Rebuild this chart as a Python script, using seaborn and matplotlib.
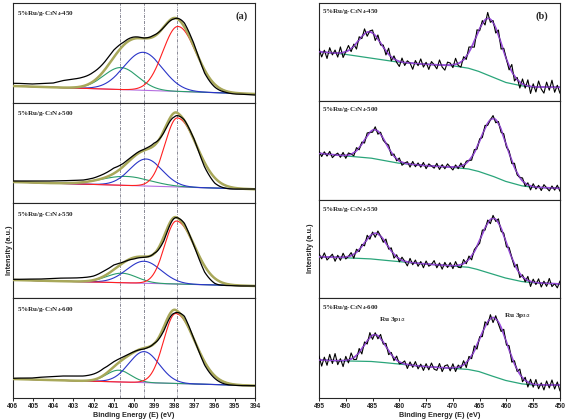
import numpy as np
import matplotlib
matplotlib.use("Agg")
import matplotlib.pyplot as plt
import seaborn as sns

sns.set_style("ticks")
plt.rcParams.update({
    "font.family": ["Liberation Sans", "DejaVu Sans"],
    "mathtext.fontset": "custom",
    "mathtext.rm": "Liberation Serif:bold",
    "mathtext.bf": "Liberation Serif:bold",
    "mathtext.it": "Liberation Serif:bold",
    "mathtext.default": "bf",
    "axes.linewidth": 0.8,
})

# ---------------- data ----------------
samples = ["450", "500", "550", "600"]

# panel (a): N 1s
ticks_a = [406, 405, 404, 403, 402, 401, 400, 399, 398, 397, 396, 395, 394]
ref_lines_a = [400.7, 399.5, 397.85]
base_left_a = [17, 21, 18, 19]
base_right_a = [9, 13.7, 12, 12.3]
red_center_a = [397.82, 397.85, 397.9, 397.93]
red_height_a = [65, 69, 63, 70]
red_sig_hi_a = [0.75, 0.62, 0.58, 0.6]
red_sig_lo_a = [0.9, 0.95, 0.9, 0.95]
blue_center_a = [399.55, 399.4, 399.5, 399.5]
blue_height_a = [38, 27, 22, 31]
blue_sig_a = [0.95, 0.8, 0.85, 0.75]
green_center_a = [400.65, 400.4, 400.6, 400.76]
green_height_a = [22, 9, 9.5, 11.7]
green_sig_a = [0.85, 1.2, 0.75, 0.6]

raw_energy_a = [406, 405.5, 405, 404.5, 404, 403.5, 403, 402.5, 402, 401.5, 401, 400.5, 400,
                399.5, 399, 398.5, 398, 397.5, 397, 396.5, 396, 395.5, 395, 394.5, 394]
raw_a_450 = [19.7, 19.5, 19, 19.5, 20, 22.5, 24, 26, 31, 40, 53, 61, 66,
             65, 68, 76, 84, 80, 58, 30, 16, 11, 9, 8.7, 8]
raw_a_500 = [22, 22, 22, 22, 22, 22.3, 22.7, 23, 25, 29, 35, 40, 48,
             53.7, 60, 71, 86, 83, 63, 36, 20, 15, 14, 14, 14]
raw_a_550 = [18.7, 18.7, 19, 19, 19.5, 20, 20, 20.5, 22, 27, 33, 36, 39,
             40.7, 44.7, 58, 79.7, 74.7, 51, 26, 14.7, 12.7, 12.3, 12, 12]
raw_a_600 = [19.7, 20, 20, 21, 21.5, 22, 22, 22, 24, 29.7, 36.3, 41.3, 46.3,
             49, 54.7, 68, 84.7, 81.7, 58, 33, 19.7, 14, 12.7, 12.3, 12.3]
raw_a = [raw_a_450, raw_a_500, raw_a_550, raw_a_600]

# panel (b): Ru 3p
ticks_b = [495, 490, 485, 480, 475, 470, 465, 460, 455, 450]
bg_energy_b = [495, 490, 485, 480, 475, 470, 467, 465, 462, 460, 457, 455, 450]
bg_b_450 = [49.3, 46.7, 42.7, 38.7, 36.7, 35.3, 32.7, 29.3, 22.7, 18.3, 15, 14, 13.7]
bg_b_500 = [46.7, 44, 41.7, 36.7, 34.3, 32.7, 31, 28.3, 22.7, 18.3, 14, 12.7, 11.7]
bg_b_550 = [41.3, 40.3, 39, 36.3, 34, 32, 30.7, 28, 23, 19.7, 16.3, 15.3, 14]
bg_b_600 = [38, 37, 36.5, 34, 31.3, 29.7, 28.5, 26.3, 20.7, 17.3, 14, 13, 13]
bg_b = [bg_b_450, bg_b_500, bg_b_550, bg_b_600]
p1_center_b = [485.5, 484.5, 484.4, 484.5]
p1_height_b = [26, 29, 26, 27]
p1_sig_b = [2.1, 2.0, 2.1, 2.0]
p2_center_b = [463.2, 462.3, 462.3, 462.3]
p2_height_b = [57, 58, 56, 59]
p2_sig_b = [2.4, 2.4, 2.4, 2.5]
annot_b = ["Ru 3p$_{1/2}$", "Ru 3p$_{3/2}$"]
annot_energy_b = [481.2, 458.0]

raw_energy_b = [495 - 0.5 * k for k in range(91)]
noise_b_450 = [3, -5, 2, -6, 5, -2, 3, -4, 6, -5, 0, 5, -3, 2, -6, 3, -2, 5, -4, 1,
               3, -5, 4, -2, 2, -4, 6, -4, 3, -2, -5, 4, -3, 2, 0, -6, 3, -2, 5, -3,
               2, -5, 3, 0, -4, 5, -2, -5, 3, 2, -3, 6, -2, -5, 3, -3, 5, 0, -6, 5,
               -2, 3, -5, 6, -3, 2, -5, 5, -6, 3, 0, -4, 7, -5, 2, -6, 5, -3, 6, -7,
               3, -5, 6, -2, -6, 5, -3, 7, -5, 2, -6]
noise_b_500 = [2, -3, 2, -2, 3, -3, 0, 2, -2, 3, -3, 2, 0, -3, 3, -2, 2, -3, 3, 0,
               -2, 3, -3, 2, -2, 0, 3, -3, 2, -2, 3, -3, 0, 2, -3, 3, -2, 2, -2, 3,
               -3, 2, 0, -2, 3, -3, 2, -2, 3, 0, -3, 2, -2, 3, -3, 2, 0, -3, 3, -2,
               2, -3, 3, -2, 0, 3, -3, 2, -3, 3, -2, 2, -3, 4, -2, 0, 3, -3, 2, -4,
               3, -2, 2, -3, 3, 0, -3, 2, -2, 3, -3]
noise_b_550 = [3, -2, 4, -3, 0, 3, -4, 2, -3, 4, -2, 0, 3, -4, 3, -2, 2, -3, 4, -3,
               2, -4, 3, 0, -3, 4, -2, 3, -4, 2, -3, 3, 0, -4, 4, -2, 3, -3, 2, -4,
               3, -2, 0, 4, -3, 2, -4, 3, -2, 3, -3, 4, -2, -3, 4, -2, 3, -4, 2, 0,
               -3, 4, -2, 3, -4, 3, -2, 4, -3, 2, -4, 3, 0, -3, 5, -4, 2, -3, 4, -5,
               3, -2, 4, -4, 2, -3, 5, -3, 0, -4, 3]
noise_b_600 = [4, -6, 3, -5, 6, -3, 7, -4, 2, -6, 4, -3, 6, -2, -4, 4, -5, 3, -3, 5,
               -4, 2, -3, 4, -2, 3, -4, 2, -3, 4, -2, 0, 3, -4, 3, -2, 4, -3, 2, -4,
               3, -3, 4, -2, -3, 4, -4, 2, 3, -3, 4, -4, 2, -2, 4, -5, 3, -3, 5, -4,
               2, -4, 5, -3, 4, -5, 3, -2, -4, 5, -3, 4, -5, 3, -2, 5, -4, 3, -5, 4,
               -3, 5, -4, 2, -5, 4, -3, 5, -4, 3, -6]
noise_b = [noise_b_450, noise_b_500, noise_b_550, noise_b_600]

# ---------------- styling ----------------
C_RAW = "#000000"
C_ENV = "#a8a85a"
C_RED = "#ff2020"
C_BLUE = "#2a35c8"
C_GREEN = "#2a9d6c"
C_PURP = "#b46ee0"
C_FITB = "#9a50dc"
C_BGB = "#2aa57a"

W, H = 567, 420
fig = plt.figure(figsize=(W / 100, H / 100), dpi=100)

rows_a = [(3, 103), (103, 203), (203, 298), (298, 398)]
rows_b = [(3, 101), (101, 200), (200, 298), (298, 398)]
ax_a_x = (13, 255)
ax_b_x = (319, 560)


def make_ax(xr, yr):
    return fig.add_axes([xr[0] / W, 1 - yr[1] / H, (xr[1] - xr[0]) / W, (yr[1] - yr[0]) / H])


def peak(x, c, h, s_hi, s_lo):
    s = np.where(x > c, s_hi, s_lo)
    return h * np.exp(-0.5 * ((x - c) / s) ** 2)


def label_text(s):
    return "5%Ru/g-C$_3$N$_4$-" + s


def line(ax, x, y, color, lw, z):
    sns.lineplot(x=x, y=y, ax=ax, color=color, linewidth=lw, errorbar=None, zorder=z)


xa = np.linspace(394, 406, 961)
grid_a = np.array(raw_energy_a)
for i, s in enumerate(samples):
    ax = make_ax(ax_a_x, rows_a[i])
    hgt = rows_a[i][1] - rows_a[i][0]
    base = np.interp(xa, [394, 406], [base_right_a[i], base_left_a[i]])
    red = peak(xa, red_center_a[i], red_height_a[i], red_sig_hi_a[i], red_sig_lo_a[i])
    blue = peak(xa, blue_center_a[i], blue_height_a[i], blue_sig_a[i], blue_sig_a[i])
    green = peak(xa, green_center_a[i], green_height_a[i], green_sig_a[i], green_sig_a[i])
    env = base + red + blue + green
    env_grid = np.interp(grid_a, xa, env)
    resid = np.array(raw_a[i]) - env_grid
    raw = env + np.interp(xa, grid_a[::-1], resid[::-1])
    for r in ref_lines_a:
        ax.axvline(r, color="#6a6a7a", lw=0.55, ls=(0, (4, 1.5, 1, 1.5)), zorder=1)
    line(ax, xa, base, C_PURP, 0.8, 2)
    line(ax, xa, base + green, C_GREEN, 0.8, 3)
    line(ax, xa, base + blue, C_BLUE, 0.8, 3)
    line(ax, xa, base + red, C_RED, 0.8, 3)
    line(ax, xa, env, C_ENV, 1.8, 4)
    line(ax, xa, raw, C_RAW, 0.9, 5)
    ax.set_xlim(406, 394)
    ax.set_ylim(0, hgt)
    ax.set_yticks([])
    ax.set_ylabel("")
    ax.text(0.017, 1 - 11 / hgt, label_text(s), transform=ax.transAxes,
            fontsize=5, ha="left", va="center", fontfamily="Liberation Serif", fontweight="bold")
    if i == 0:
        ax.text(0.946, 1 - 13 / hgt, "(a)", transform=ax.transAxes, fontsize=7.5,
                ha="center", va="center", fontfamily="Liberation Serif", fontweight="bold")
    if i < 3:
        ax.set_xticks([])
        ax.set_xlabel("")
    else:
        ax.set_xticks(ticks_a)
        ax.set_xticklabels([str(t) for t in ticks_a], fontsize=4.8, fontweight="bold")
        ax.tick_params(axis="x", direction="out", length=2.5, width=0.7, pad=1.2)
        ax.set_xlabel("Binding Energy (E) (eV)", fontsize=5.2, fontweight="bold", labelpad=1.5)
    for sp in ax.spines.values():
        sp.set_visible(True)
        sp.set_linewidth(0.8)

xb = np.linspace(450, 495, 901)
rb = np.array(raw_energy_b)
for i, s in enumerate(samples):
    ax = make_ax(ax_b_x, rows_b[i])
    hgt = rows_b[i][1] - rows_b[i][0]
    bg = np.interp(xb, bg_energy_b[::-1], bg_b[i][::-1])
    fit = bg + peak(xb, p1_center_b[i], p1_height_b[i], p1_sig_b[i], p1_sig_b[i]) \
        + peak(xb, p2_center_b[i], p2_height_b[i], p2_sig_b[i], p2_sig_b[i])
    fit_r = np.interp(rb, xb, fit)
    raw = fit_r + np.array(noise_b[i])
    line(ax, xb, bg, C_BGB, 0.9, 2)
    line(ax, xb, fit, C_FITB, 1.3, 3)
    line(ax, rb, raw, C_RAW, 0.8, 4)
    line(ax, xb, fit, C_FITB, 0.6, 5)
    ax.set_xlim(495, 450)
    ax.set_ylim(0, hgt)
    ax.set_yticks([])
    ax.set_ylabel("")
    ax.text(0.012, 1 - 9 / hgt, label_text(s), transform=ax.transAxes,
            fontsize=5, ha="left", va="center", fontfamily="Liberation Serif", fontweight="bold")
    if i == 0:
        ax.text(0.925, 1 - 13 / hgt, "(b)", transform=ax.transAxes, fontsize=7.5,
                ha="center", va="center", fontfamily="Liberation Serif", fontweight="bold")
    if i < 3:
        ax.set_xticks([])
        ax.set_xlabel("")
    else:
        ax.set_xticks(ticks_b)
        ax.set_xticklabels([str(t) for t in ticks_b], fontsize=4.8, fontweight="bold")
        ax.tick_params(axis="x", direction="out", length=2.5, width=0.7, pad=1.2)
        ax.set_xlabel("Binding Energy (E) (eV)", fontsize=5.2, fontweight="bold", labelpad=1.5)
        ax.text(annot_energy_b[0], hgt - 21, annot_b[0], fontsize=5.2, ha="center", va="center",
                fontfamily="Liberation Serif", fontweight="bold")
        ax.text(annot_energy_b[1], hgt - 17, annot_b[1], fontsize=5.2, ha="center", va="center",
                fontfamily="Liberation Serif", fontweight="bold")
    for sp in ax.spines.values():
        sp.set_visible(True)
        sp.set_linewidth(0.8)

fig.text(10 / W, 1 - 250 / H, "Intensity (a.u.)", rotation=90, fontsize=5.2,
         fontweight="bold", ha="center", va="center")
fig.text(310 / W, 1 - 248 / H, "Intensity (a.u.)", rotation=90, fontsize=5.2,
         fontweight="bold", ha="center", va="center")

fig.savefig("out.png", dpi=100)
